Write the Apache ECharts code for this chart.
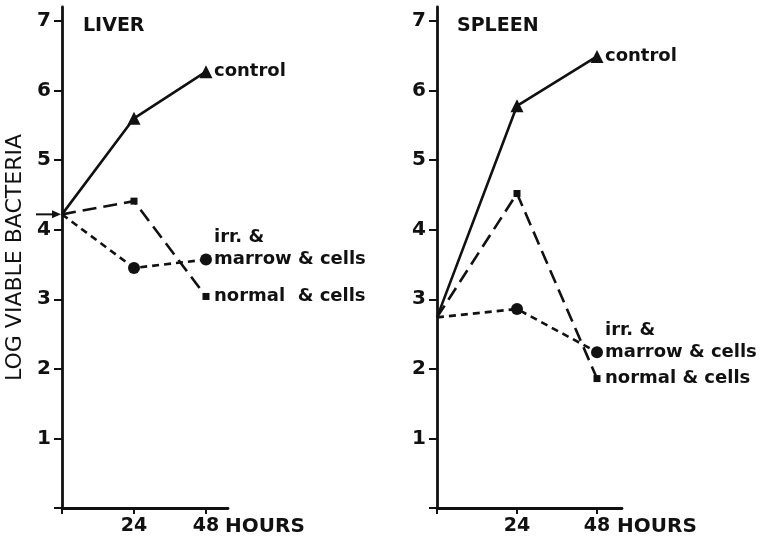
<!DOCTYPE html>
<html>
<head>
<meta charset="utf-8">
<script src="https://cdn.jsdelivr.net/npm/echarts@6/dist/echarts.min.js"></script>
<style>
  html, body { margin: 0; padding: 0; background: #fff; }
  #chart { width: 775px; height: 537px; }
</style>
</head>
<body>
<div id="chart"></div>
<script>
// hours after injection
var hours = [0, 24, 48];
var yTicks = [0, 1, 2, 3, 4, 5, 6, 7];
var yLabels = [1, 2, 3, 4, 5, 6, 7];
var xTicks = [0, 24, 48];
var xLabels = [24, 48];

// log viable bacteria, liver
var liverControl = [4.22, 5.6, 6.27];
var liverNormal = [4.22, 4.41, 3.04];
var liverIrr = [4.22, 3.45, 3.57];

// log viable bacteria, spleen
var spleenControl = [2.74, 5.78, 6.49];
var spleenNormal = [2.74, 4.52, 1.86];
var spleenIrr = [2.74, 2.86, 2.24];

var panelTitles = ['LIVER', 'SPLEEN'];
var startLevel = liverControl[0];

var font = 'DejaVu Sans, sans-serif';
var ink = '#111';

var chartDom = document.getElementById('chart');
var myChart = echarts.init(chartDom);

function pairs(vals) {
    return hours.map(function (h, i) { return [h, vals[i]]; });
}

function xAxis(idx, max) {
    return {
        type: 'value',
        gridIndex: idx,
        min: 0,
        max: max,
        splitLine: { show: false },
        axisLine: { onZero: false, lineStyle: { color: ink, width: 2.8 } },
        axisTick: { customValues: xTicks, length: 6, lineStyle: { color: ink, width: 2 } },
        axisLabel: {
            customValues: xLabels, color: ink, fontFamily: font, fontWeight: 'bold',
            fontSize: 19, margin: 9
        },
        name: 'HOURS',
        nameLocation: 'end',
        nameGap: -5,
        nameTextStyle: {
            color: ink, fontFamily: font, fontWeight: 'bold', fontSize: 20,
            verticalAlign: 'top', align: 'left', padding: [9, 0, 0, 0]
        }
    };
}

function yAxis(idx, withName) {
    var ax = {
        type: 'value',
        gridIndex: idx,
        min: 0,
        max: 7.2,
        splitLine: { show: false },
        axisLine: { lineStyle: { color: ink, width: 2.8 } },
        axisTick: { customValues: yTicks, length: 8, lineStyle: { color: ink, width: 2 } },
        axisLabel: {
            customValues: yLabels, color: ink, fontFamily: font, fontWeight: 'bold',
            fontSize: 20, margin: 11
        }
    };
    if (withName) {
        ax.name = 'LOG VIABLE BACTERIA';
        ax.nameLocation = 'middle';
        ax.nameGap = 36;
        ax.nameTextStyle = { color: ink, fontFamily: font, fontSize: 22 };
    }
    return ax;
}

function mk(idx, vals, shape, size, dash, label) {
    return {
        type: 'line',
        xAxisIndex: idx,
        yAxisIndex: idx,
        data: pairs(vals),
        symbol: function (v, p) { return p.dataIndex === 0 ? 'none' : shape; },
        symbolSize: size,
        showSymbol: true,
        itemStyle: { color: ink },
        lineStyle: { color: ink, width: 2.6, type: dash },
        animation: false,
        endLabel: {
            show: true,
            formatter: label,
            color: ink,
            fontFamily: font,
            fontWeight: 'bold',
            fontSize: 18,
            lineHeight: 22,
            distance: 8,
            offset: label.indexOf('\n') >= 0 ? [0, -11] : [0, 0]
        }
    };
}

var option = {
    animation: false,
    title: panelTitles.map(function (t, i) {
        return {
            text: t,
            left: i === 0 ? 78 : 452,
            top: 12,
            textStyle: { color: ink, fontFamily: font, fontWeight: 'bold', fontSize: 19 }
        };
    }),
    grid: [
        { left: 62, top: 7, width: 166, height: 501 },
        { left: 437, top: 7, width: 185, height: 501 }
    ],
    xAxis: [xAxis(0, 166 / 3), xAxis(1, 185 / (160 / 48))],
    yAxis: [yAxis(0, true), yAxis(1, false)],
    series: [
        mk(0, liverControl, 'triangle', 13, 'solid', 'control'),
        mk(0, liverNormal, 'rect', 7, [14, 7], 'normal  & cells'),
        mk(0, liverIrr, 'circle', 12, [7, 5], 'irr. &\nmarrow & cells'),
        mk(1, spleenControl, 'triangle', 13, 'solid', 'control'),
        mk(1, spleenNormal, 'rect', 7, [14, 7], 'normal & cells'),
        mk(1, spleenIrr, 'circle', 12, [7, 5], 'irr. &\nmarrow & cells')
    ]
};

myChart.setOption(option);

// arrow marking the inoculum level on the liver axis
var p = myChart.convertToPixel({ gridIndex: 0 }, [0, startLevel]);
myChart.setOption({
    graphic: [
        { type: 'line', shape: { x1: p[0] - 26, y1: p[1], x2: p[0] - 4, y2: p[1] },
          style: { stroke: ink, lineWidth: 2 } },
        { type: 'polygon', shape: { points: [[p[0] - 1, p[1]], [p[0] - 10, p[1] - 4], [p[0] - 10, p[1] + 4]] },
          style: { fill: ink } }
    ]
});
</script>
</body>
</html>
